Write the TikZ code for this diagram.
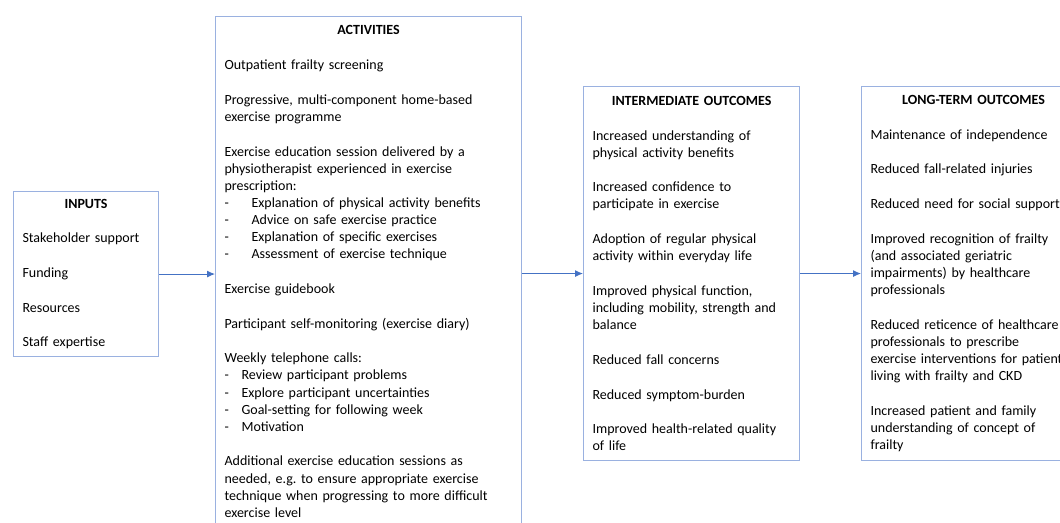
\documentclass[tikz,border=0pt]{standalone}
\usepackage{fontspec}
\setmainfont{Carlito}
\usetikzlibrary{arrows.meta}
\definecolor{boxline}{HTML}{9AB1E0}
\definecolor{arrowline}{HTML}{4472C4}
\hyphenpenalty=10000
\newcommand\itemgap{17.6pt}
\newcommand\tabdash{\makebox[27pt][l]{-}}
\newcommand\shortdash{\makebox[17pt][l]{-}}
\newcommand\boxhead[1]{\hfill\textbf{#1}\hfill\null}

\begin{document}
\begin{tikzpicture}[x=1pt,y=1pt,
  block/.style={draw=boxline, line width=1.1pt, anchor=north west, align=left,
    inner xsep=9pt, inner ysep=0pt, font=\fontsize{14}{17.1}\selectfont},
  flow/.style={draw=arrowline, line width=1pt, -{Latex[length=8pt,width=7pt]}}]

		\useasboundingbox (0,0) rectangle (1060,522);
		\clip (0,0) rectangle (1060,522);

		\node [block, text width=127, minimum height=165] (0) at (13, 331) {%
			\boxhead{INPUTS}\\[\itemgap]
			Stakeholder support\\[\itemgap]
			Funding\\[\itemgap]
			Resources\\[\itemgap]
			Staff expertise};

		\node [block, text width=288, minimum height=510] (1) at (215, 506) {%
			\boxhead{ACTIVITIES}\\[\itemgap]
			Outpatient frailty screening\\[\itemgap]
			Progressive, multi-component home-based\\
			exercise programme\\[\itemgap]
			Exercise education session delivered by a\\
			physiotherapist experienced in exercise\\
			prescription:\\
			\tabdash Explanation of physical activity benefits\\
			\tabdash Advice on safe exercise practice\\
			\tabdash Explanation of specific exercises\\
			\tabdash Assessment of exercise technique\\[\itemgap]
			Exercise guidebook\\[\itemgap]
			Participant self-monitoring (exercise diary)\\[\itemgap]
			Weekly telephone calls:\\
			\shortdash Review participant problems\\
			\shortdash Explore participant uncertainties\\
			\shortdash Goal-setting for following week\\
			\shortdash Motivation\\[\itemgap]
			Additional exercise education sessions as\\
			needed, e.g.\ to ensure appropriate exercise\\
			technique when progressing to more difficult\\
			exercise level};

		\node [block, text width=198, minimum height=374] (2) at (583, 436) {%
			\boxhead{INTERMEDIATE OUTCOMES}\\[\itemgap]
			Increased understanding of\\
			physical activity benefits\\[\itemgap]
			Increased confidence to\\
			participate in exercise\\[\itemgap]
			Adoption of regular physical\\
			activity within everyday life\\[\itemgap]
			Improved physical function,\\
			including mobility, strength and\\
			balance\\[\itemgap]
			Reduced fall concerns\\[\itemgap]
			Reduced symptom-burden\\[\itemgap]
			Improved health-related quality\\
			of life};

		\node [block, text width=206, minimum height=374] (3) at (861, 436) {%
			\boxhead{LONG-TERM OUTCOMES}\\[\itemgap]
			Maintenance of independence\\[\itemgap]
			Reduced fall-related injuries\\[\itemgap]
			Reduced need for social support\\[\itemgap]
			Improved recognition of frailty\\
			(and associated geriatric\\
			impairments) by healthcare\\
			professionals\\[\itemgap]
			Reduced reticence of healthcare\\
			professionals to prescribe\\
			exercise interventions for patients\\
			living with frailty and CKD\\[\itemgap]
			Increased patient and family\\
			understanding of concept of\\
			frailty};

		\draw [flow] (0.east) to (0.east -| 1.west);
		\draw [flow] (1.east |- 2.west) to (2.west);
		\draw [flow] (2.east) to (3.west);
\end{tikzpicture}
\end{document}
